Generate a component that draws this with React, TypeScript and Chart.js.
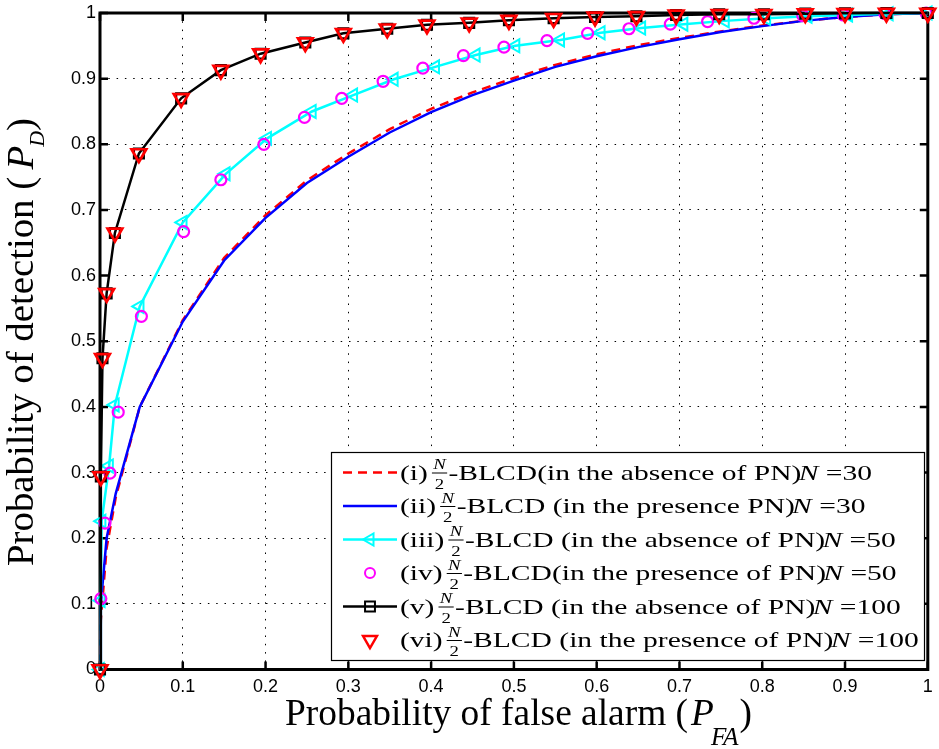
import React, { useEffect, useRef } from 'react';
import { Chart, registerables } from 'chart.js';

Chart.register(...registerables);

// ---------- data ----------
const TICK_VALUES = [0, 0.1, 0.2, 0.3, 0.4, 0.5, 0.6, 0.7, 0.8, 0.9, 1];

// N = 30 (curves (i) and (ii))
const X_N30 = [0, 0.001, 0.008, 0.019, 0.048, 0.1, 0.15, 0.2, 0.25, 0.3, 0.35, 0.4, 0.45, 0.5, 0.55, 0.6, 0.65, 0.7, 0.75, 0.8, 0.85, 0.9, 0.95, 1];
const Y_N30_ABSENT = [0, 0.075, 0.185, 0.262, 0.4, 0.532, 0.627, 0.692, 0.745, 0.786, 0.823, 0.854, 0.879, 0.901, 0.921, 0.937, 0.951, 0.962, 0.972, 0.981, 0.988, 0.994, 0.998, 1];
const Y_N30_PRESENT = [0, 0.1, 0.2, 0.268, 0.4, 0.53, 0.623, 0.688, 0.741, 0.781, 0.818, 0.849, 0.875, 0.897, 0.918, 0.934, 0.948, 0.96, 0.971, 0.98, 0.988, 0.994, 0.998, 1];

// N = 50 (curve (iii), absence of PN)
const X_N50_ABSENT = [0, 0.001, 0.002, 0.011, 0.018, 0.048, 0.1, 0.152, 0.202, 0.256, 0.306, 0.355, 0.405, 0.454, 0.502, 0.556, 0.605, 0.654, 0.705, 0.755, 0.805, 0.855, 0.904, 0.953, 1];
const Y_N50_ABSENT = [0, 0.105, 0.226, 0.31, 0.403, 0.553, 0.681, 0.755, 0.809, 0.85, 0.875, 0.899, 0.918, 0.936, 0.95, 0.959, 0.97, 0.977, 0.983, 0.988, 0.992, 0.995, 0.997, 0.999, 1];

// N = 50 (curve (iv), presence of PN)
const X_N50_PRESENT = [0.001, 0.006, 0.012, 0.022, 0.05, 0.101, 0.146, 0.198, 0.247, 0.292, 0.342, 0.39, 0.439, 0.488, 0.54, 0.589, 0.639, 0.689, 0.734, 0.79, 0.849, 0.898, 0.948, 0.998];
const Y_N50_PRESENT = [0.108, 0.223, 0.299, 0.392, 0.538, 0.667, 0.746, 0.8, 0.841, 0.87, 0.896, 0.916, 0.935, 0.948, 0.958, 0.969, 0.976, 0.983, 0.987, 0.992, 0.996, 0.997, 0.999, 1];

// N = 100 (curves (v) and (vi))
const X_N100 = [0, 0.001, 0.003, 0.008, 0.018, 0.047, 0.098, 0.146, 0.194, 0.248, 0.294, 0.347, 0.395, 0.446, 0.494, 0.548, 0.598, 0.648, 0.696, 0.748, 0.802, 0.852, 0.9, 0.95, 1];
const Y_N100_ABSENT = [0, 0.294, 0.474, 0.573, 0.665, 0.786, 0.87, 0.913, 0.938, 0.955, 0.969, 0.976, 0.982, 0.985, 0.989, 0.992, 0.994, 0.995, 0.997, 0.998, 0.998, 0.999, 0.9995, 1, 1];
const Y_N100_PRESENT = [0, 0.294, 0.474, 0.573, 0.665, 0.786, 0.87, 0.913, 0.938, 0.955, 0.969, 0.976, 0.982, 0.985, 0.989, 0.992, 0.994, 0.995, 0.997, 0.998, 0.998, 0.999, 0.9995, 1, 1];

// legend texts
const LEGEND_ROMAN = ['(i)', '(ii)', '(iii)', '(iv)', '(v)', '(vi)'];
const LEGEND_TEXT = [
  '-BLCD(in the absence of PN)',
  '-BLCD (in the presence PN)',
  '-BLCD (in the absence of PN)',
  '-BLCD(in the presence of PN)',
  '-BLCD (in the absence of PN)',
  '-BLCD (in the presence of PN)',
];
const LEGEND_N = ['30', '30', '50', '50', '100', '100'];

const X_TITLE = 'Probability of false alarm (';
const Y_TITLE = 'Probability of detection (';

// ---------- styling ----------
const SERIF = '"Liberation Serif", "Times New Roman", serif';
const SANS = '"Liberation Sans", Arial, sans-serif';
const RED = '#ff0000';
const BLUE = '#0000ff';
const CYAN = '#00ffff';
const MAGENTA = '#ff00ff';
const BLACK = '#000000';

const pts = (xs: number[], ys: number[]) => xs.map((x, i) => ({ x, y: ys[i] }));

type Seg = { t: string; font: string; dy?: number; dx?: number };

function drawRich(ctx: CanvasRenderingContext2D, segs: Seg[], target?: number) {
  let total = 0;
  const ws: number[] = [];
  segs.forEach((s) => {
    ctx.font = s.font;
    const w = ctx.measureText(s.t).width;
    ws.push(w);
    total += w + (s.dx || 0);
  });
  const sx = target ? target / total : 1;
  ctx.save();
  ctx.scale(sx, 1);
  let x = 0;
  segs.forEach((s, i) => {
    x += s.dx || 0;
    ctx.font = s.font;
    ctx.fillText(s.t, x, s.dy || 0);
    x += ws[i];
  });
  ctx.restore();
}

function marker(ctx: CanvasRenderingContext2D, style: string, x: number, y: number, r: number, rotDeg: number) {
  ctx.beginPath();
  if (style === 'circle') {
    ctx.arc(x, y, r, 0, Math.PI * 2);
  } else if (style === 'rect') {
    const s = Math.SQRT1_2 * r;
    ctx.rect(x - s, y - s, 2 * s, 2 * s);
  } else {
    let rad = (rotDeg * Math.PI) / 180;
    ctx.moveTo(x + Math.sin(rad) * r, y - Math.cos(rad) * r);
    rad += (2 * Math.PI) / 3;
    ctx.lineTo(x + Math.sin(rad) * r, y - Math.cos(rad) * r);
    rad += (2 * Math.PI) / 3;
    ctx.lineTo(x + Math.sin(rad) * r, y - Math.cos(rad) * r);
    ctx.closePath();
  }
  ctx.stroke();
}

const LEGEND_STYLE = [
  { color: RED, line: true, dash: [9, 6], mk: '', r: 0, rot: 0, mw: 0 },
  { color: BLUE, line: true, dash: [], mk: '', r: 0, rot: 0, mw: 0 },
  { color: CYAN, line: true, dash: [], mk: 'triangle', r: 7, rot: -90, mw: 2 },
  { color: MAGENTA, line: false, dash: [], mk: 'circle', r: 5, rot: 0, mw: 2 },
  { color: BLACK, line: true, dash: [], mk: 'rect', r: 7, rot: 0, mw: 2 },
  { color: RED, line: false, dash: [], mk: 'triangle', r: 8, rot: 180, mw: 2.5 },
];

function drawLegend(ctx: CanvasRenderingContext2D) {
  const bx = 331.5, by = 452.5, bw = 593, bh = 208;
  ctx.save();
  ctx.fillStyle = '#ffffff';
  ctx.fillRect(bx, by, bw, bh);
  ctx.strokeStyle = '#000';
  ctx.lineWidth = 1.2;
  ctx.strokeRect(bx, by, bw, bh);

  const F = `22px ${SERIF}`;
  const FI = `italic 22px ${SERIF}`;
  const FS = `14px ${SERIF}`;
  const FSI = `italic 14px ${SERIF}`;

  const rowParts = (i: number) => {
    ctx.font = F;
    const wRoman = ctx.measureText(LEGEND_ROMAN[i]).width;
    const wText = ctx.measureText(LEGEND_TEXT[i]).width;
    const wEq = ctx.measureText(' =' + LEGEND_N[i]).width;
    ctx.font = FI;
    const wN = ctx.measureText('N').width;
    ctx.font = FSI;
    const wFN = ctx.measureText('N').width;
    ctx.font = FS;
    const wF2 = ctx.measureText('2').width;
    const fw = Math.max(wFN, wF2) + 2;
    return { wRoman, wText, wEq, wN, wFN, wF2, fw };
  };
  const widthOf = (i: number) => {
    const p = rowParts(i);
    return p.wRoman + 3 + p.fw + 1 + p.wText - 2 + p.wN + p.wEq;
  };
  const sx = 472 / widthOf(0);

  for (let i = 0; i < 6; i++) {
    const cy = 472.5 + i * 33.5;
    const st = LEGEND_STYLE[i];
    ctx.strokeStyle = st.color;
    if (st.line) {
      ctx.lineWidth = 2.5;
      ctx.setLineDash(st.dash);
      ctx.beginPath();
      ctx.moveTo(343, cy);
      ctx.lineTo(397, cy);
      ctx.stroke();
      ctx.setLineDash([]);
    }
    if (st.mk) {
      ctx.lineWidth = st.mw;
      marker(ctx, st.mk, 370, cy, st.r, st.rot);
    }

    const p = rowParts(i);
    const base = cy + 7;
    ctx.save();
    ctx.translate(400, base);
    ctx.scale(sx, 1);
    ctx.fillStyle = '#000';
    let x = 0;
    ctx.font = F;
    ctx.fillText(LEGEND_ROMAN[i], x, 0);
    x += p.wRoman + 3;
    // fraction N/2
    ctx.font = FSI;
    ctx.fillText('N', x + (p.fw - p.wFN) / 2, -10.5);
    ctx.fillRect(x, -7, p.fw, 1);
    ctx.font = FS;
    ctx.fillText('2', x + (p.fw - p.wF2) / 2, 9);
    x += p.fw + 1;
    ctx.font = F;
    ctx.fillText(LEGEND_TEXT[i], x, 0);
    x += p.wText - 2;
    ctx.font = FI;
    ctx.fillText('N', x, 0);
    x += p.wN;
    ctx.font = F;
    ctx.fillText(' =' + LEGEND_N[i], x, 0);
    ctx.restore();
  }
  ctx.restore();
}

const framePlugin = {
  id: 'matlabFrame',
  beforeDatasetsDraw(chart: any) {
    const { ctx, chartArea: a, scales } = chart;
    ctx.save();
    ctx.strokeStyle = '#000';
    ctx.lineWidth = 3;
    ctx.strokeRect(a.left, a.top, a.right - a.left, a.bottom - a.top);
    ctx.lineWidth = 2.5;
    const L = 8;
    ctx.beginPath();
    TICK_VALUES.forEach((v) => {
      const px = scales.x.getPixelForValue(v);
      ctx.moveTo(px, a.bottom);
      ctx.lineTo(px, a.bottom - L);
      ctx.moveTo(px, a.top);
      ctx.lineTo(px, a.top + L);
      const py = scales.y.getPixelForValue(v);
      ctx.moveTo(a.left, py);
      ctx.lineTo(a.left + L, py);
      ctx.moveTo(a.right, py);
      ctx.lineTo(a.right - L, py);
    });
    ctx.stroke();
    ctx.restore();
  },
  afterDraw(chart: any) {
    const { ctx } = chart;
    ctx.save();
    ctx.fillStyle = '#000';
    ctx.textBaseline = 'alphabetic';
    ctx.textAlign = 'left';
    // x title
    ctx.save();
    ctx.translate(285, 725);
    drawRich(
      ctx,
      [
        { t: X_TITLE, font: `37px ${SERIF}` },
        { t: 'P', font: `italic 37px ${SERIF}`, dx: 3 },
        { t: 'FA', font: `italic 25px ${SERIF}`, dy: 20, dx: -3 },
        { t: ')', font: `37px ${SERIF}`, dx: 1 },
      ],
      467
    );
    ctx.restore();
    // y title
    ctx.save();
    ctx.translate(33, 566);
    ctx.rotate(-Math.PI / 2);
    drawRich(
      ctx,
      [
        { t: Y_TITLE, font: `37px ${SERIF}` },
        { t: 'P', font: `italic 37px ${SERIF}`, dx: 7 },
        { t: 'D', font: `italic 21px ${SERIF}`, dy: 11, dx: -1 },
        { t: ')', font: `37px ${SERIF}`, dx: 0 },
      ],
      448
    );
    ctx.restore();
    ctx.restore();
    drawLegend(ctx);
  },
};

const tickLabel = (v: any) => {
  const n = Number(v);
  return n === 0 ? '0' : n === 1 ? '1' : n.toFixed(1);
};

export default function App() {
  const ref = useRef<HTMLCanvasElement | null>(null);

  useEffect(() => {
    if (!ref.current) return;
    const chart = new Chart(ref.current, {
      type: 'line',
      data: {
        datasets: [
          {
            label: '(i)',
            data: pts(X_N30, Y_N30_ABSENT),
            borderColor: RED,
            borderWidth: 2.5,
            borderDash: [9, 6],
            pointRadius: 0,
            tension: 0,
            order: 6,
            clip: false,
          },
          {
            label: '(ii)',
            data: pts(X_N30, Y_N30_PRESENT),
            borderColor: BLUE,
            borderWidth: 2.5,
            pointRadius: 0,
            tension: 0,
            order: 5,
            clip: false,
          },
          {
            label: '(iii)',
            data: pts(X_N50_ABSENT, Y_N50_ABSENT),
            borderColor: CYAN,
            borderWidth: 2.5,
            pointStyle: 'triangle',
            rotation: -90,
            pointRadius: 7.5,
            pointBorderWidth: 2,
            pointBorderColor: CYAN,
            pointBackgroundColor: 'rgba(0,0,0,0)',
            tension: 0,
            order: 4,
            clip: false,
          },
          {
            label: '(iv)',
            data: pts(X_N50_PRESENT, Y_N50_PRESENT),
            borderColor: MAGENTA,
            showLine: false,
            pointStyle: 'circle',
            pointRadius: 5.5,
            pointBorderWidth: 2.2,
            pointBorderColor: MAGENTA,
            pointBackgroundColor: 'rgba(0,0,0,0)',
            order: 3,
            clip: false,
          },
          {
            label: '(v)',
            data: pts(X_N100, Y_N100_ABSENT),
            borderColor: BLACK,
            borderWidth: 2.5,
            pointStyle: 'rect',
            pointRadius: 7,
            pointBorderWidth: 2.2,
            pointBorderColor: BLACK,
            pointBackgroundColor: 'rgba(0,0,0,0)',
            tension: 0,
            order: 2,
            clip: false,
          },
          {
            label: '(vi)',
            data: pts(X_N100, Y_N100_PRESENT),
            borderColor: RED,
            showLine: false,
            pointStyle: 'triangle',
            rotation: 180,
            pointRadius: 8.5,
            pointBorderWidth: 2.7,
            pointBorderColor: RED,
            pointBackgroundColor: 'rgba(0,0,0,0)',
            order: 1,
            clip: false,
          },
        ] as any,
      },
      options: {
        animation: false,
        responsive: false,
        maintainAspectRatio: false,
        devicePixelRatio: 1,
        layout: { padding: { top: 13, right: 6, left: 0, bottom: 0 } },
        plugins: { legend: { display: false }, tooltip: { enabled: false }, title: { display: false } },
        scales: {
          x: {
            type: 'linear',
            min: 0,
            max: 1,
            afterFit: (s: any) => {
              s.height = 79.5;
              s.paddingLeft = 0;
              s.paddingRight = 0;
            },
            afterBuildTicks: (s: any) => {
              s.ticks = TICK_VALUES.map((v) => ({ value: v }));
            },
            ticks: {
              callback: tickLabel,
              font: { family: SANS, size: 18 },
              color: '#000',
              padding: 7,
              maxRotation: 0,
              autoSkip: false,
            },
            grid: { drawTicks: false, color: '#000', lineWidth: 1 },
            border: { display: false, dash: [1.5, 6.8] },
          },
          y: {
            type: 'linear',
            min: 0,
            max: 1,
            afterFit: (s: any) => {
              s.width = 100;
              s.paddingTop = 0;
              s.paddingBottom = 0;
            },
            afterBuildTicks: (s: any) => {
              s.ticks = TICK_VALUES.map((v) => ({ value: v }));
            },
            ticks: {
              callback: tickLabel,
              font: { family: SANS, size: 18 },
              color: '#000',
              padding: 4,
              autoSkip: false,
            },
            grid: { drawTicks: false, color: '#000', lineWidth: 1 },
            border: { display: false, dash: [1.5, 6.8] },
          },
        },
      } as any,
      plugins: [framePlugin as any],
    });
    return () => chart.destroy();
  }, []);

  return (
    <div style={{ position: 'absolute', left: 0, top: 0, width: 939, height: 749, background: '#fff' }}>
      <canvas ref={ref} width={939} height={749} style={{ display: 'block', width: 939, height: 749 }} />
    </div>
  );
}
